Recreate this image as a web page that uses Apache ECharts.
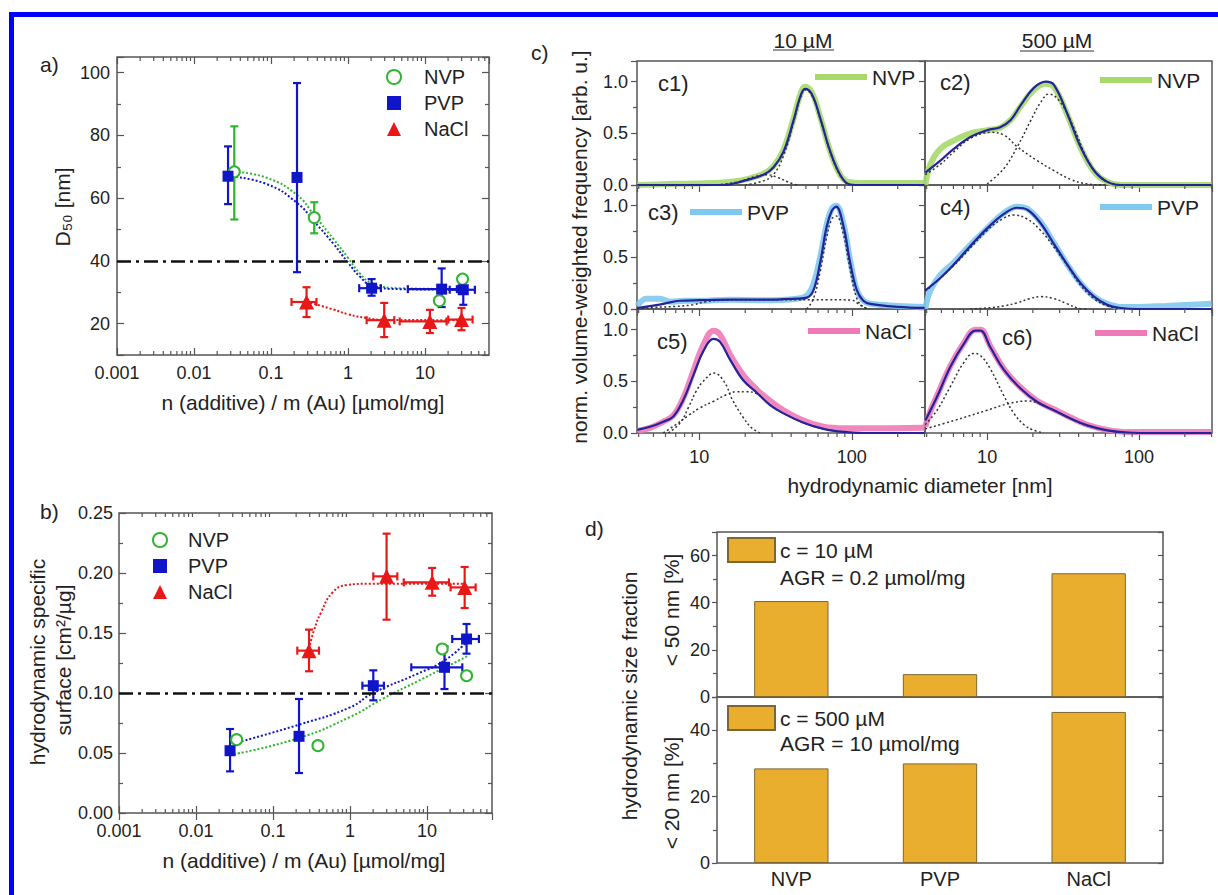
<!DOCTYPE html>
<html>
<head>
<meta charset="utf-8">
<script src="https://cdn.jsdelivr.net/npm/echarts@6.0.0/dist/echarts.min.js"></script>
<style>
  html, body { margin: 0; padding: 0; background: #fff; }
  #fig { width: 1218px; height: 895px; }
</style>
</head>
<body>
<div id="fig"></div>
<script>
// ---- panel a: D50 vs additive ratio  [x, y, yLo, yHi, xLo, xHi]
var aNVP = [[0.0334, 68.4, 53.2, 82.9], [0.365, 53.8, 48.8, 58.7], [15.4, 27.3, 26.3, 28.3], [30.8, 34.2, 33.2, 35.2]];
var aPVP = [[0.0277, 67.0, 58.1, 76.5], [0.218, 66.6, 36.4, 96.7], [2.03, 31.3, 28.9, 34.2, 1.40, 2.68],
            [16.5, 31.0, 25.3, 37.6, 6.0, 26.0], [31.5, 30.8, 26.0, 35.2, 21.0, 44.6]];
var aNaCl = [[0.29, 26.9, 22.1, 31.6, 0.185, 0.39], [2.96, 21.1, 15.7, 26.6, 1.75, 4.0],
             [11.6, 20.7, 17.0, 24.4, 4.7, 19.1], [29.9, 21.3, 17.9, 25.0, 20.1, 41.6]];
var aFitNVP = [[0.0334, 68.4], [0.0879, 66.5], [0.218, 61], [0.366, 54.5], [0.646, 47], [1, 41], [1.43, 36], [2.03, 33], [4.73, 31.3], [31.5, 31]];
var aFitPVP = [[0.0277, 67], [0.0879, 64.5], [0.218, 58.5], [0.366, 52.5], [0.646, 45.5], [1, 39.5], [1.43, 35], [2.03, 32.2], [4.73, 31], [31.5, 30.8]];
var aFitNaCl = [[0.29, 27], [0.646, 24.5], [1, 23], [1.75, 21.8], [2.96, 21.2], [31.5, 21.1]];
var aRef = 40;

// ---- panel b: specific surface
var bNVP = [[0.0337, 0.0611, 0.058, 0.064, 0.030, 0.038], [0.384, 0.0561, 0.0535, 0.0587, 0.34, 0.43],
            [15.8, 0.1367, 0.134, 0.139, 14.2, 17.5], [32.7, 0.1144, 0.112, 0.117, 29.5, 36.2]];
var bPVP = [[0.0277, 0.0519, 0.0347, 0.070], [0.218, 0.0639, 0.0333, 0.095], [2.01, 0.1061, 0.0939, 0.1189, 1.45, 2.76],
            [16.9, 0.1214, 0.1033, 0.1389, 6.26, 28.8], [32.7, 0.145, 0.1328, 0.1575, 21.3, 47.3]];
var bNaCl = [[0.294, 0.1353, 0.1181, 0.1528, 0.207, 0.396], [2.99, 0.1972, 0.1611, 0.2328, 2.01, 4.12],
             [11.7, 0.1922, 0.1811, 0.2042, 5.0, 19.3], [30.9, 0.188, 0.1708, 0.205, 20.3, 42.9]];
var bFitNVP = [[0.0312, 0.049], [0.218, 0.0625], [1, 0.080], [2.77, 0.0958], [7.5, 0.1097], [33.4, 0.1306]];
var bFitPVP = [[0.0312, 0.058], [0.218, 0.0736], [1, 0.088], [2.0, 0.1], [7.5, 0.116], [16.9, 0.127], [33.4, 0.143]];
var bFitNaCl = [[0.294, 0.137], [0.34, 0.152], [0.42, 0.167], [0.6, 0.184], [0.92, 0.19], [1.7, 0.191], [31.8, 0.191]];
var bRef = 0.098;

// ---- panel c: size distributions [diameter nm, norm. frequency]
var c1Meas = [[3.92, 0], [5, 0.005], [7, 0.012], [10, 0.015], [14.4, 0.025], [19.5, 0.05], [26.3, 0.11], [30.6, 0.18], [35.6, 0.34], [41.4, 0.64], [45.8, 0.87], [49.4, 0.95], [54.6, 0.9], [62, 0.66], [72, 0.33], [83.8, 0.1], [95, 0.03], [120, 0.02], [300, 0.02]];
var c1Fit = [[3.92, 0], [14.4, 0], [19.5, 0.04], [26.3, 0.1], [30.6, 0.17], [35.6, 0.32], [41.4, 0.62], [45.8, 0.85], [49.4, 0.93], [54.6, 0.88], [62, 0.65], [72, 0.33], [83.8, 0.1], [95, 0.01], [110, 0], [300, 0]];
var c1CompA = [[13, 0], [18, 0.03], [23, 0.08], [27.7, 0.1], [33, 0.07], [38, 0.03], [43.5, 0]];
var c1CompB = [[20, 0], [26.3, 0.04], [30.6, 0.1], [35.6, 0.28], [41.4, 0.6], [45.8, 0.84], [49.4, 0.92], [54.6, 0.87], [62, 0.64], [72, 0.32], [83.8, 0.09], [95, 0]];

var c2Meas = [[3.92, 0], [4.23, 0.2], [4.92, 0.35], [6.03, 0.43], [7.76, 0.5], [10, 0.53], [12.2, 0.555], [14.3, 0.63], [16.6, 0.76], [20.3, 0.92], [24.3, 0.98], [27.5, 0.95], [33.7, 0.68], [41.2, 0.36], [50.5, 0.13], [61.8, 0.03], [75.7, 0], [300, 0]];
var c2Fit = [[3.92, 0.12], [4.92, 0.235], [6.03, 0.35], [7.76, 0.464], [10, 0.53], [12.2, 0.56], [14.3, 0.63], [16.6, 0.77], [20.3, 0.94], [24.3, 1.0], [27.5, 0.97], [33.7, 0.69], [41.2, 0.37], [50.5, 0.14], [61.8, 0.03], [75.7, 0], [300, 0]];
var c2CompA = [[3.92, 0.1], [4.92, 0.2], [6.03, 0.32], [7.76, 0.45], [10.5, 0.51], [13, 0.48], [15.8, 0.37], [21.4, 0.235], [27.5, 0.14], [35.4, 0.055], [45.6, 0.01], [60, 0]];
var c2CompB = [[10, 0.01], [12.9, 0.16], [15.8, 0.37], [19.3, 0.62], [22.5, 0.8], [25.5, 0.88], [30.4, 0.8], [37.3, 0.55], [45.6, 0.25], [55.9, 0.07], [68.5, 0.01], [80, 0]];

var c3Meas = [[3.92, 0.03], [4.5, 0.1], [5.5, 0.1], [6.5, 0.07], [8, 0.08], [10, 0.08], [15.9, 0.09], [26.3, 0.085], [43.5, 0.1], [50.7, 0.13], [56, 0.24], [62, 0.5], [68.5, 0.82], [73.9, 0.97], [78.9, 1.0], [88.2, 0.82], [97.5, 0.47], [108, 0.18], [119, 0.08], [132, 0.05], [200, 0.03], [300, 0.02]];
var c3Fit = [[3.92, 0.01], [5.81, 0.05], [7.47, 0.08], [10, 0.085], [15.9, 0.09], [26.3, 0.09], [43.5, 0.1], [50.7, 0.11], [56, 0.18], [62, 0.45], [68.5, 0.8], [73.9, 0.95], [78.9, 0.99], [88.2, 0.8], [97.5, 0.45], [108, 0.18], [119, 0.08], [132, 0.05], [200, 0.02], [300, 0.01]];
var c3CompA = [[3.92, 0], [5, 0.015], [7, 0.025], [9, 0.04], [11, 0.07], [14, 0.085], [20, 0.09], [43.5, 0.09], [70, 0.09], [100, 0.085], [108, 0.06], [119, 0.02], [130, 0]];
var c3CompB = [[50.7, 0], [56, 0.1], [62, 0.36], [68.5, 0.7], [73.9, 0.87], [78.9, 0.9], [88.2, 0.72], [97.5, 0.38], [108, 0.1], [119, 0.02], [130, 0]];

var c4Meas = [[3.92, 0], [4.23, 0.18], [4.92, 0.33], [6.03, 0.45], [7.76, 0.62], [10, 0.78], [12.9, 0.93], [15.8, 0.99], [18.4, 0.97], [22.5, 0.84], [27.5, 0.64], [33.7, 0.43], [41.2, 0.25], [50.5, 0.12], [61.8, 0.05], [75.7, 0.02], [97.5, 0.02], [150, 0.03], [300, 0.05]];
var c4Fit = [[3.92, 0.18], [4.92, 0.3], [6.03, 0.43], [7.76, 0.61], [10, 0.78], [12.9, 0.92], [15.8, 0.98], [18.4, 0.96], [22.5, 0.83], [27.5, 0.63], [33.7, 0.43], [41.2, 0.25], [50.5, 0.12], [61.8, 0.04], [75.7, 0.01], [97.5, 0], [300, 0]];
var c4CompA = [[3.92, 0.17], [6.03, 0.42], [10, 0.76], [12.9, 0.88], [15, 0.91], [18.4, 0.87], [22.5, 0.76], [27.5, 0.6], [33.7, 0.42], [41.2, 0.23], [50.5, 0.1], [61.8, 0.03], [75.7, 0]];
var c4CompB = [[7.76, 0], [10, 0.01], [12.9, 0.03], [15.8, 0.06], [19, 0.1], [22.5, 0.12], [27.5, 0.1], [33.7, 0.05], [39.2, 0.01], [45, 0]];

var c5Meas = [[3.92, 0.02], [4.74, 0.05], [5.81, 0.11], [6.75, 0.17], [7.85, 0.34], [9.14, 0.6], [10.6, 0.85], [12.4, 0.99], [13.7, 0.95], [15.9, 0.76], [19.4, 0.56], [23.8, 0.42], [29.1, 0.31], [35.6, 0.22], [48.2, 0.12], [65.2, 0.06], [88.2, 0.045], [119, 0.045], [300, 0.05]];
var c5Fit = [[3.92, 0.03], [4.74, 0.06], [5.81, 0.11], [6.75, 0.16], [7.85, 0.32], [9.14, 0.56], [10.6, 0.79], [12.4, 0.91], [13.7, 0.88], [15.9, 0.71], [19.4, 0.51], [23.8, 0.39], [29.1, 0.27], [35.6, 0.19], [48.2, 0.1], [65.2, 0.04], [88.2, 0.01], [119, 0], [300, 0]];
var c5CompA = [[6.26, 0], [7.5, 0.1], [8.5, 0.25], [9.5, 0.4], [10.6, 0.5], [12.5, 0.58], [14.5, 0.5], [16.5, 0.32], [19.4, 0.15], [22, 0.05], [25, 0]];
var c5CompB = [[5.8, 0], [7, 0.08], [8.5, 0.17], [10, 0.24], [12.5, 0.31], [15, 0.37], [17.6, 0.4], [20, 0.4], [23.8, 0.38], [29.1, 0.27], [35.6, 0.19], [48.2, 0.1], [65.2, 0.04], [88, 0.01], [100, 0]];

var c6Meas = [[3.92, 0.06], [4.2, 0.2], [4.68, 0.36], [5.73, 0.65], [7.01, 0.87], [8.38, 1.0], [9.04, 1.0], [10.5, 0.84], [12.9, 0.62], [16.6, 0.44], [21.4, 0.31], [27.5, 0.23], [35.4, 0.15], [45.6, 0.08], [61.8, 0.03], [83.8, 0.01], [126, 0.01], [300, 0.01]];
var c6Fit = [[3.92, 0.12], [4.68, 0.35], [5.73, 0.64], [7.01, 0.86], [8.38, 0.99], [9.04, 0.99], [10.5, 0.83], [12.9, 0.61], [16.6, 0.43], [21.4, 0.3], [27.5, 0.22], [35.4, 0.14], [45.6, 0.074], [61.8, 0.026], [83.8, 0.005], [126, 0], [300, 0]];
var c6CompA = [[3.92, 0.08], [4.68, 0.22], [5.73, 0.45], [7.01, 0.68], [8.17, 0.77], [9.04, 0.75], [10.5, 0.62], [12.9, 0.36], [15, 0.19], [17.5, 0.08], [20, 0.03], [23.6, 0]];
var c6CompB = [[3.92, 0.04], [6.03, 0.12], [10, 0.22], [13.5, 0.28], [18.4, 0.31], [22.5, 0.28], [27.5, 0.22], [35.4, 0.14], [45.6, 0.07], [61.8, 0.025], [84, 0.005], [100, 0]];

// ---- panel d: size fractions
var dCats = ['NVP', 'PVP', 'NaCl'];
var d10 = [40.7, 9.7, 52.5];
var d500 = [28.5, 30.0, 45.5];

// minor tick positions for the log axes
var abMinor = [0.002, 0.003, 0.004, 0.005, 0.006, 0.007, 0.008, 0.009, 0.02, 0.03, 0.04, 0.05, 0.06, 0.07, 0.08, 0.09,
               0.2, 0.3, 0.4, 0.5, 0.6, 0.7, 0.8, 0.9, 2, 3, 4, 5, 6, 7, 8, 9, 20, 30, 40, 50, 60];
var cMinor = [4, 5, 6, 7, 8, 9, 20, 30, 40, 50, 60, 70, 80, 90, 200, 300];

var FONT = "'Liberation Sans', Arial, 'DejaVu Sans', sans-serif";
var TXT = '#222', AXC = '#555';
var GREEN = '#2fb52f', BLUE = '#1016c8', RED = '#e81818';
var NVP_C = '#a6d96a', PVP_C = '#80c8ee', NACL_C = '#f07ab8', FIT_C = '#23239a', COMP_C = '#333';
var BAR_C = '#e9ae2e';

var grids = [
  {left: 117, top: 57, width: 372, height: 298},   // a
  {left: 119, top: 513, width: 373, height: 300},  // b
  {left: 637, top: 61, width: 288, height: 124},   // c1
  {left: 925, top: 61, width: 287, height: 124},   // c2
  {left: 637, top: 185, width: 288, height: 124},  // c3
  {left: 925, top: 185, width: 287, height: 124},  // c4
  {left: 637, top: 309, width: 288, height: 124},  // c5
  {left: 925, top: 309, width: 287, height: 124},  // c6
  {left: 717, top: 532, width: 446, height: 165},  // d top
  {left: 717, top: 697, width: 446, height: 166}   // d bottom
].map(function (g) {
  return Object.assign({show: true, borderColor: AXC, borderWidth: 1.5, containLabel: false,
    outerBoundsMode: 'none', backgroundColor: 'transparent'}, g);
});

function logFmt(v) { return String(parseFloat(Number(v).toPrecision(4))); }

function axis(gi, pos, type, min, max, o) {
  o = o || {};
  var a = {
    gridIndex: gi, position: pos, type: type,
    axisLine: {show: false}, splitLine: {show: false},
    axisTick: {show: o.tick !== false, inside: !!o.inside, length: o.tickLen || 7, lineStyle: {color: AXC, width: 1.2}},
    minorTick: {show: !!o.minor, splitNumber: o.minor || 2, length: 4, lineStyle: {color: AXC, width: 1.2}},
    minorSplitLine: {show: false},
    axisLabel: {show: !!o.label, fontSize: o.fs || 18, color: TXT, fontFamily: FONT, margin: o.margin || 8}
  };
  if (min !== null) a.min = min;
  if (max !== null) a.max = max;
  if (o.showMin !== undefined) a.axisLabel.showMinLabel = o.showMin;
  if (o.showMax !== undefined) a.axisLabel.showMaxLabel = o.showMax;
  if (o.fmt) a.axisLabel.formatter = o.fmt;
  if (o.interval) a.interval = o.interval;
  if (o.split) a.splitNumber = o.split;
  if (type === 'log') a.logBase = 10;
  if (o.data) a.data = o.data;
  return a;
}

var xAxes = [], yAxes = [];
// a
xAxes.push(axis(0, 'bottom', 'log', 0.001, 68, {inside: true, label: true, margin: 9, showMin: true, showMax: false, fmt: logFmt}));
xAxes.push(axis(0, 'top', 'log', 0.001, 68, {inside: true}));
yAxes.push(axis(0, 'left', 'value', 10, 105, {inside: true, label: true, minor: 2, split: 5, showMin: false, showMax: false, margin: 7}));
yAxes.push(axis(0, 'right', 'value', 10, 105, {inside: true, minor: 2, split: 5}));
// b
xAxes.push(axis(1, 'bottom', 'log', 0.001, 70, {inside: true, label: true, margin: 9, showMin: true, showMax: false, fmt: logFmt}));
xAxes.push(axis(1, 'top', 'log', 0.001, 70, {inside: true}));
yAxes.push(axis(1, 'left', 'value', 0, 0.25, {inside: true, label: true, minor: 2, interval: 0.05, margin: 6, showMin: true, showMax: true,
  fmt: function (v) { return v.toFixed(2); }}));
yAxes.push(axis(1, 'right', 'value', 0, 0.25, {inside: true, minor: 2, interval: 0.05}));
// c1..c6
for (var k = 0; k < 6; k++) {
  var gi = 2 + k, bottomRow = k >= 4, leftCol = k % 2 === 0;
  xAxes.push(axis(gi, 'bottom', 'log', 3.9, 302, {label: bottomRow, tickLen: 7, margin: 15, showMin: false, showMax: false, fmt: logFmt}));
  xAxes.push(axis(gi, 'top', 'log', 3.9, 302, {tick: false}));
  yAxes.push(axis(gi, 'left', 'value', 0, 1.2, {label: leftCol, tickLen: 6, minor: 2, interval: 0.5, margin: 9, showMax: false,
    fmt: function (v) { return v.toFixed(1); }}));
  yAxes.push(axis(gi, 'right', 'value', 0, 1.2, {tick: false, interval: 0.5}));
}
// d
xAxes.push(axis(8, 'bottom', 'category', null, null, {tick: false, data: dCats}));
xAxes.push(axis(8, 'top', 'category', null, null, {tick: false, data: dCats}));
yAxes.push(axis(8, 'left', 'value', 0, 70, {label: true, tickLen: 5, minor: 2, interval: 20, margin: 7, showMax: false}));
yAxes.push(axis(8, 'right', 'value', 0, 70, {inside: true, tickLen: 5, minor: 2, interval: 20}));
xAxes.push(axis(9, 'bottom', 'category', null, null, {tick: false, label: true, fs: 20, margin: 6, data: dCats}));
xAxes.push(axis(9, 'top', 'category', null, null, {tick: false, data: dCats}));
yAxes.push(axis(9, 'left', 'value', 0, 50, {label: true, tickLen: 5, minor: 2, interval: 20, margin: 7, showMax: false}));
yAxes.push(axis(9, 'right', 'value', 0, 50, {inside: true, tickLen: 5, minor: 2, interval: 20}));

var series = [];

function refLine(gi, data, yv) {
  return {type: 'line', name: 'ref' + gi, xAxisIndex: 2 * gi, yAxisIndex: 2 * gi, data: [], silent: true,
    markLine: {silent: true, symbol: ['none', 'none'], label: {show: false}, animation: false,
      lineStyle: {color: '#111', width: 2.5, type: [14, 5, 3, 5]}, data: [{yAxis: yv}]}};
}
function fitLine(gi, data, color) {
  return {type: 'line', xAxisIndex: 2 * gi, yAxisIndex: 2 * gi, data: data, smooth: 0.5, showSymbol: false,
    symbol: 'none', silent: true, z: 3, lineStyle: {color: color, width: 2, type: [2, 2]}};
}
function errBars(gi, rows, color) {
  return {
    type: 'custom', xAxisIndex: 2 * gi, yAxisIndex: 2 * gi, silent: true, z: 4,
    data: rows.map(function (r) { return [r[0], r[1], r[2], r[3], r[4] || 0, r[5] || 0]; }),
    encode: {x: 0, y: 1},
    renderItem: function (params, api) {
      var x = api.value(0), y = api.value(1);
      var lo = api.coord([x, api.value(2)]), hi = api.coord([x, api.value(3)]);
      var st = {stroke: color, lineWidth: 2.2}, cap = 4;
      var kids = [
        {type: 'line', shape: {x1: lo[0], y1: lo[1], x2: hi[0], y2: hi[1]}, style: st},
        {type: 'line', shape: {x1: lo[0] - cap, y1: lo[1], x2: lo[0] + cap, y2: lo[1]}, style: st},
        {type: 'line', shape: {x1: hi[0] - cap, y1: hi[1], x2: hi[0] + cap, y2: hi[1]}, style: st}
      ];
      var xl = api.value(4), xh = api.value(5);
      if (xl > 0 && xh > 0) {
        var l = api.coord([xl, y]), r = api.coord([xh, y]);
        kids.push({type: 'line', shape: {x1: l[0], y1: l[1], x2: r[0], y2: r[1]}, style: st});
        kids.push({type: 'line', shape: {x1: l[0], y1: l[1] - cap, x2: l[0], y2: l[1] + cap}, style: st});
        kids.push({type: 'line', shape: {x1: r[0], y1: r[1] - cap, x2: r[0], y2: r[1] + cap}, style: st});
      }
      return {type: 'group', children: kids};
    }
  };
}
function points(gi, name, rows, symbol, size, color) {
  var s = {type: 'scatter', name: name, xAxisIndex: 2 * gi, yAxisIndex: 2 * gi, symbol: symbol, symbolSize: size, z: 5,
    data: rows.map(function (r) { return [r[0], r[1]]; }), itemStyle: {color: color, opacity: 1}};
  if (symbol === 'emptyCircle') s.itemStyle = {color: color, borderColor: color, borderWidth: 2, opacity: 1};
  return s;
}
function minorTicks(gi, vals, ymin, ymax, len, inside, both) {
  return {
    type: 'custom', xAxisIndex: 2 * gi, yAxisIndex: 2 * gi, silent: true, z: 6, clip: false,
    data: vals.map(function (v) { return [v, ymin]; }),
    encode: {x: 0, y: 1},
    renderItem: function (params, api) {
      var v = api.value(0);
      var b = api.coord([v, ymin]), t = api.coord([v, ymax]);
      var d = inside ? -len : len;
      var st = {stroke: AXC, lineWidth: 1.2};
      var kids = [{type: 'line', shape: {x1: b[0], y1: b[1], x2: b[0], y2: b[1] + d}, style: st}];
      if (both) kids.push({type: 'line', shape: {x1: t[0], y1: t[1], x2: t[0], y2: t[1] - d}, style: st});
      return {type: 'group', children: kids};
    }
  };
}

// panel a
series.push(refLine(0, null, aRef));
series.push(fitLine(0, aFitNVP, GREEN), fitLine(0, aFitPVP, BLUE), fitLine(0, aFitNaCl, RED));
series.push(errBars(0, aNVP, GREEN), errBars(0, aPVP, BLUE), errBars(0, aNaCl, RED));
series.push(points(0, 'a:NVP', aNVP, 'emptyCircle', 11, GREEN), points(0, 'a:PVP', aPVP, 'rect', 11, BLUE),
            points(0, 'a:NaCl', aNaCl, 'triangle', 15, RED));
series.push(minorTicks(0, abMinor, 10, 105, 4, true, true));
// panel b
series.push(refLine(1, null, bRef));
series.push(fitLine(1, bFitNVP, GREEN), fitLine(1, bFitPVP, BLUE), fitLine(1, bFitNaCl, RED));
series.push(errBars(1, bNVP, GREEN), errBars(1, bPVP, BLUE), errBars(1, bNaCl, RED));
series.push(points(1, 'b:NVP', bNVP, 'emptyCircle', 11, GREEN), points(1, 'b:PVP', bPVP, 'rect', 11, BLUE),
            points(1, 'b:NaCl', bNaCl, 'triangle', 15, RED));
series.push(minorTicks(1, abMinor, 0, 0.25, 4, true, true));

// panel c
var cPanels = [
  {name: 'c1:NVP', color: NVP_C, meas: c1Meas, fit: c1Fit, comps: [c1CompA, c1CompB]},
  {name: 'c2:NVP', color: NVP_C, meas: c2Meas, fit: c2Fit, comps: [c2CompA, c2CompB]},
  {name: 'c3:PVP', color: PVP_C, meas: c3Meas, fit: c3Fit, comps: [c3CompA, c3CompB]},
  {name: 'c4:PVP', color: PVP_C, meas: c4Meas, fit: c4Fit, comps: [c4CompA, c4CompB]},
  {name: 'c5:NaCl', color: NACL_C, meas: c5Meas, fit: c5Fit, comps: [c5CompA, c5CompB]},
  {name: 'c6:NaCl', color: NACL_C, meas: c6Meas, fit: c6Fit, comps: [c6CompA, c6CompB]}
];
cPanels.forEach(function (p, k) {
  var gi = 2 + k;
  series.push({type: 'line', name: p.name, xAxisIndex: 2 * gi, yAxisIndex: 2 * gi, data: p.meas, smooth: 0.4,
    symbol: 'none', showSymbol: false, color: p.color, itemStyle: {color: p.color},
    lineStyle: {color: p.color, width: 6, opacity: 0.9}, z: 2});
  p.comps.forEach(function (c) {
    series.push({type: 'line', xAxisIndex: 2 * gi, yAxisIndex: 2 * gi, data: c, smooth: 0.4, symbol: 'none',
      showSymbol: false, silent: true, lineStyle: {color: COMP_C, width: 1.5, type: [2, 2.5]}, z: 3});
  });
  series.push({type: 'line', xAxisIndex: 2 * gi, yAxisIndex: 2 * gi, data: p.fit, smooth: 0.4, symbol: 'none',
    showSymbol: false, silent: true, lineStyle: {color: FIT_C, width: 2.2}, z: 4});
  series.push(minorTicks(gi, cMinor, 0, 1.2, 4, false, false));
});

// panel d
var barStyle = {color: BAR_C, borderColor: '#7d6633', borderWidth: 1};
series.push({type: 'bar', name: 'd1:c = 10 µM', xAxisIndex: 16, yAxisIndex: 16, data: d10, barWidth: '50%', itemStyle: barStyle});
series.push({type: 'bar', name: 'd2:c = 500 µM', xAxisIndex: 18, yAxisIndex: 18, data: d500, barWidth: '50%', itemStyle: barStyle});

function legend(names, left, top, o) {
  return Object.assign({
    data: names, left: left, top: top, orient: 'vertical', padding: 0, itemGap: 4,
    itemWidth: 14, itemHeight: 14, selectedMode: false,
    formatter: function (n) { return n.slice(n.indexOf(':') + 1); },
    textStyle: {fontSize: 20, color: TXT, fontFamily: FONT, lineHeight: 22, padding: [0, 0, 0, 18]}
  }, o || {});
}
var cLeg = {itemWidth: 52, itemHeight: 6, icon: 'rect',
  textStyle: {fontSize: 21, color: TXT, fontFamily: FONT, lineHeight: 22}};
var dLeg = {itemWidth: 47, itemHeight: 24, icon: 'rect',
  textStyle: {fontSize: 21, color: TXT, fontFamily: FONT, lineHeight: 22}};
var legends = [
  legend(['a:NVP', 'a:PVP', 'a:NaCl'], 386, 66),
  legend(['b:NVP', 'b:PVP', 'b:NaCl'], 152, 529, {textStyle: {fontSize: 20, color: TXT, fontFamily: FONT, lineHeight: 22, padding: [0, 0, 0, 16]}}),
  legend(['c1:NVP'], 815, 66, cLeg),
  legend(['c2:NVP'], 1100, 69, cLeg),
  legend(['c3:PVP'], 690, 201, cLeg),
  legend(['c4:PVP'], 1100, 196, cLeg),
  legend(['c5:NaCl'], 808, 320, cLeg),
  legend(['c6:NaCl'], 1095, 322, cLeg),
  legend(['d1:c = 10 µM'], 727, 537, dLeg),
  legend(['d2:c = 500 µM'], 727, 705, dLeg)
];

function txt(s, x, y, o) {
  o = o || {};
  return {type: 'text', x: x, y: y, rotation: o.rot ? Math.PI / 2 : 0, silent: true, z: 10,
    style: {text: s, fill: TXT, font: (o.fs || 21) + 'px ' + FONT,
      textAlign: o.align || 'center', textVerticalAlign: 'middle'}};
}
function ln(x1, y1, x2, y2, color, w) {
  return {type: 'line', silent: true, z: 10, shape: {x1: x1, y1: y1, x2: x2, y2: y2}, style: {stroke: color, lineWidth: w}};
}
var graphics = [
  ln(9, 14.5, 1218, 14.5, '#0000ff', 5),
  ln(11.5, 12, 11.5, 895, '#0000ff', 5),
  txt('a)', 40, 64, {align: 'left'}),
  txt('b)', 40, 511, {align: 'left'}),
  txt('c)', 531, 52, {align: 'left'}),
  txt('d)', 585, 528, {align: 'left'}),
  txt('D₅₀ [nm]', 62, 207, {rot: true}),
  txt('n (additive) / m (Au) [µmol/mg]', 303, 402),
  txt('hydrodynamic specific', 37, 662, {rot: true}),
  txt('surface [cm²/µg]', 63, 660, {rot: true}),
  txt('n (additive) / m (Au) [µmol/mg]', 304, 860),
  txt('10 µM', 803, 40),
  ln(773, 50, 834, 50, '#333', 1.2),
  txt('500 µM', 1057, 40),
  ln(1020, 51, 1094, 51, '#333', 1.2),
  txt('norm. volume-weighted frequency [arb. u.]', 579, 247, {rot: true}),
  txt('hydrodynamic diameter [nm]', 920, 485),
  txt('c1)', 658, 83, {align: 'left', fs: 22}),
  txt('c2)', 940, 82, {align: 'left', fs: 22}),
  txt('c3)', 648, 212, {align: 'left', fs: 22}),
  txt('c4)', 940, 207, {align: 'left', fs: 22}),
  txt('c5)', 657, 341, {align: 'left', fs: 22}),
  txt('c6)', 1002, 337, {align: 'left', fs: 22}),
  txt('AGR = 0.2 µmol/mg', 780, 577, {align: 'left'}),
  txt('AGR = 10 µmol/mg', 780, 743, {align: 'left'}),
  txt('hydrodynamic size fraction', 629, 696, {rot: true}),
  txt('< 50 nm [%]', 671, 610, {rot: true}),
  txt('< 20 nm [%]', 671, 793, {rot: true})
];

var chart = echarts.init(document.getElementById('fig'), null, {renderer: 'svg'});
chart.setOption({
  animation: false,
  backgroundColor: '#fff',
  textStyle: {fontFamily: FONT, color: TXT},
  grid: grids,
  xAxis: xAxes,
  yAxis: yAxes,
  legend: legends,
  graphic: {elements: graphics},
  series: series
});
</script>
</body>
</html>
